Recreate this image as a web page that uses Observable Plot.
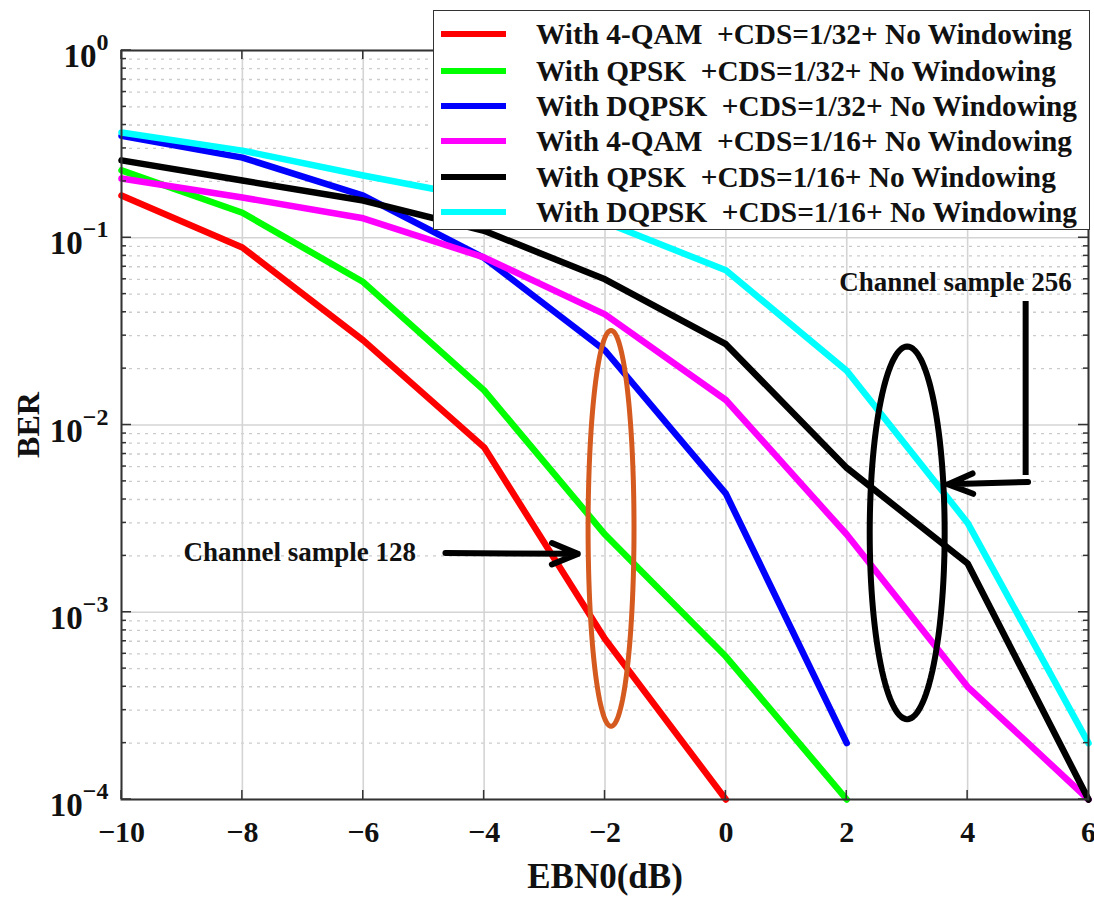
<!DOCTYPE html>
<html><head><meta charset="utf-8">
<script src="https://cdn.jsdelivr.net/npm/d3@7"></script>
<script src="https://cdn.jsdelivr.net/npm/@observablehq/plot@0.6"></script>
<style>
body{margin:0;background:#fff;}
#wrap{position:relative;width:1094px;height:898px;overflow:hidden;}
#legend{position:absolute;left:433px;top:10px;width:655px;height:218px;border:1.5px solid #333;background:#fff;font-family:'Liberation Serif','Times New Roman',serif;font-weight:bold;font-size:29.3px;color:#111;}
.row{position:absolute;left:0;height:36px;display:flex;align-items:center;white-space:pre;}
.sw{width:65px;height:6px;margin-left:7px;margin-right:30px;}
</style>
</head><body><div id="wrap"></div>
<script>
// ---- data ----
const ebn0 = [-10, -8, -6, -4, -2, 0, 2, 4, 6];
const seriesNames = [
  "With 4-QAM  +CDS=1/32+ No Windowing",
  "With QPSK  +CDS=1/32+ No Windowing",
  "With DQPSK  +CDS=1/32+ No Windowing",
  "With 4-QAM  +CDS=1/16+ No Windowing",
  "With QPSK  +CDS=1/16+ No Windowing",
  "With DQPSK  +CDS=1/16+ No Windowing"
];
const seriesColors = ["#ff0000", "#00ff00", "#0000ff", "#ff00ff", "#000000", "#00ffff"];
const berQam32   = [0.168, 0.0887, 0.0283, 0.0076, 0.00072, 0.0001];
const berQpsk32  = [0.229, 0.136, 0.058, 0.0153, 0.0026, 0.00058, 0.0001];
const berDqpsk32 = [0.35, 0.268, 0.168, 0.078, 0.025, 0.0043, 0.0002];
const berQam16   = [0.207, 0.164, 0.127, 0.0785, 0.039, 0.0136, 0.0026, 0.0004, 0.0001];
const berQpsk16  = [0.259, 0.202, 0.158, 0.109, 0.060, 0.027, 0.0059, 0.00182, 0.0001];
const berDqpsk16 = [0.365, 0.292, 0.215, 0.162, 0.121, 0.067, 0.0195, 0.0030, 0.0002];
const seriesValues = [berQam32, berQpsk32, berDqpsk32, berQam16, berQpsk16, berDqpsk16];

const xTicks = [-10, -8, -6, -4, -2, 0, 2, 4, 6];
const yDecades = [1e-4, 1e-3, 1e-2, 1e-1, 1];
const yTickLabels = ["10^-4", "10^-3", "10^-2", "10^-1", "10^0"];

// annotations
const noteTexts = ["Channel sample 128", "Channel sample 256"];
const noteX = [-7.05, 3.8];
const noteY = [0.0021, 0.0577];
const arrow128 = {x1: -4.64, y1: 0.00207, x2: -2.45, y2: 0.00205};
const arrow256Stem = {x1: 4.96, y1: 0.046, x2: 4.96, y2: 0.0054};
const arrow256 = {x1: 5.0, y1: 0.00496, x2: 3.68, y2: 0.00482};
const ellipse128 = {cx: -1.9, logY: -2.552, rx: 0.38, ry: 1.057, color: "#d55a1f"};
const ellipse256 = {cx: 3.0, logY: -2.576, rx: 0.62, ry: 0.995, color: "#000000"};

// ---- build ----
const minorTicks = d3.scaleLog().domain([1e-4, 1]).ticks().filter(v => !yDecades.some(d => Math.abs(d - v) / d < 1e-6));
const ellipsePts = e => d3.range(0, 361, 3).map(a => {
  const t = a * Math.PI / 180;
  return {x: e.cx + e.rx * Math.cos(t), y: Math.pow(10, e.logY + e.ry * Math.sin(t))};
});
const lineMarks = seriesValues.map((vals, i) =>
  Plot.line(vals.map((v, j) => ({x: ebn0[j], y: v})), {x: "x", y: "y", stroke: seriesColors[i], strokeWidth: 6.5, strokeLinejoin: "round"})
);

function frameTicks(index, scales, values, dims) {
  const x = scales.x, y = scales.y;
  const L = dims.marginLeft, T = dims.marginTop, R = dims.width - dims.marginRight, B = dims.height - dims.marginBottom;
  const g = d3.create("svg:g").attr("stroke", "#333").attr("stroke-width", 1.5);
  const seg = (x1, y1, x2, y2) => g.append("line").attr("x1", x1).attr("y1", y1).attr("x2", x2).attr("y2", y2);
  for (const v of yDecades) { const p = y(v); seg(L, p, L + 10, p); seg(R, p, R - 10, p); }
  for (const v of minorTicks) { const p = y(v); seg(L, p, L + 5, p); seg(R, p, R - 5, p); }
  for (const v of xTicks) { const p = x(v); seg(p, B, p, B - 9); seg(p, T, p, T + 9); }
  return g.node();
}

const chart = Plot.plot({
  width: 1094, height: 898,
  marginLeft: 121, marginRight: 6, marginTop: 50, marginBottom: 99,
  style: {fontFamily: "'Liberation Serif','Times New Roman',serif", fontWeight: "bold", fontSize: "30px", color: "#111", background: "transparent"},
  x: {domain: [-10, 6], ticks: xTicks, tickSize: 0, tickPadding: 21, label: null,
      tickFormat: d => (d < 0 ? "\u2212" + Math.abs(d) : String(d))},
  y: {type: "log", domain: [1e-4, 1], ticks: yDecades, tickSize: 0, tickPadding: 13, label: null,
      tickFormat: d => yTickLabels[yDecades.findIndex(v => Math.abs(v - d) / v < 1e-6)]},
  marks: [
    Plot.ruleY(minorTicks, {stroke: "#cccccc", strokeWidth: 1.3, strokeDasharray: "3,5"}),
    Plot.ruleY(yDecades, {stroke: "#d4d4d4", strokeWidth: 1.6}),
    Plot.ruleX(xTicks, {stroke: "#d4d4d4", strokeWidth: 1.6}),
    ...lineMarks,
    Plot.line(ellipsePts(ellipse128), {x: "x", y: "y", stroke: ellipse128.color, strokeWidth: 5}),
    Plot.line(ellipsePts(ellipse256), {x: "x", y: "y", stroke: ellipse256.color, strokeWidth: 6}),
    Plot.arrow([arrow128], {x1: "x1", y1: "y1", x2: "x2", y2: "y2", stroke: "#000", strokeWidth: 6, headLength: 7, headAngle: 45}),
    Plot.link([arrow256Stem], {x1: "x1", y1: "y1", x2: "x2", y2: "y2", stroke: "#000", strokeWidth: 6}),
    Plot.arrow([arrow256], {x1: "x1", y1: "y1", x2: "x2", y2: "y2", stroke: "#000", strokeWidth: 6, headLength: 7, headAngle: 45}),
    Plot.text(noteTexts, {x: (d, i) => noteX[i], y: (d, i) => noteY[i], text: d => d, fontSize: 27, fontWeight: "bold", fill: "#111"}),
    Plot.text(["EBN0(dB)"], {frameAnchor: "bottom", dy: 88, text: d => d, fontSize: 35, fontWeight: "bold", fill: "#111"}),
    Plot.text(["BER"], {frameAnchor: "left", dx: -93, rotate: -90, textAnchor: "middle", text: d => d, fontSize: 32, fontWeight: "bold", fill: "#111"}),
    frameTicks,
    Plot.frame({stroke: "#333", strokeWidth: 2})
  ]
});

// superscript exponents on y tick labels
const ns = "http://www.w3.org/2000/svg";
chart.querySelectorAll("text").forEach(t => {
  const m = /^10\^(-?\d)$/.exec(t.textContent.trim());
  if (!m) return;
  t.textContent = "";
  const a = document.createElementNS(ns, "tspan");
  a.setAttribute("dy", "7"); a.setAttribute("font-size", "33"); a.textContent = "10";
  const b = document.createElementNS(ns, "tspan");
  b.setAttribute("dy", "-17"); b.setAttribute("font-size", "24"); b.textContent = m[1].replace("-", "\u2212");
  t.append(a, b);
});

const wrap = document.getElementById("wrap");
wrap.appendChild(chart);

// legend
const legend = document.createElement("div");
legend.id = "legend";
const rowCenters = [23, 60, 95, 130, 166, 201];
seriesNames.forEach((name, i) => {
  const row = document.createElement("div");
  row.className = "row";
  row.style.top = (rowCenters[i] - 18) + "px";
  const sw = document.createElement("div");
  sw.className = "sw"; sw.style.background = seriesColors[i];
  const tx = document.createElement("span");
  tx.textContent = name;
  row.append(sw, tx);
  legend.appendChild(row);
});
wrap.appendChild(legend);
</script>
</body></html>
